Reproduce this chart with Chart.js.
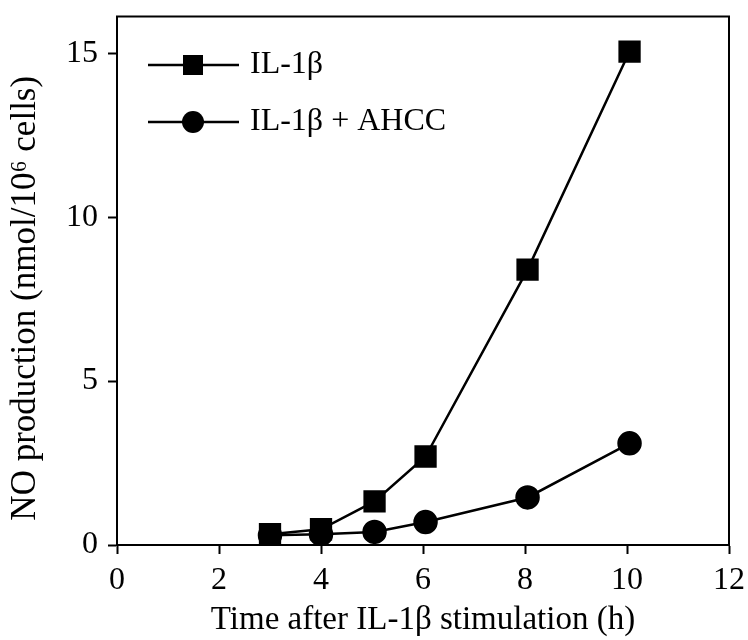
<!DOCTYPE html>
<html>
<head>
<meta charset="utf-8">
<script src="https://cdn.jsdelivr.net/npm/chart.js@4/dist/chart.umd.min.js"></script>
<style>
  html, body { margin: 0; padding: 0; background: #fff; }
  #wrap { width: 748px; height: 640px; }
</style>
</head>
<body>
<div id="wrap"><canvas id="noChart" width="748" height="640"></canvas></div>
<script>
// NO production over time
const times = [3, 4, 5.05, 6.05, 8.05, 10.05];
const il1b = [0.33, 0.48, 1.33, 2.7, 8.4, 15.05];
const il1bAhcc = [0.3, 0.33, 0.4, 0.7, 1.45, 3.1];
const xTicks = [0, 2, 4, 6, 8, 10, 12];
const yTicks = [0, 5, 10, 15];

const serif = "'Liberation Serif', 'Times New Roman', serif";

function toPoints(ys){ return times.map((t, i) => ({ x: t, y: ys[i] })); }

// legend glyph: line with marker in the middle
function legendGlyph(kind){
  const c = document.createElement('canvas');
  c.width = 104; c.height = 30;
  const g = c.getContext('2d');
  g.strokeStyle = '#000'; g.lineWidth = 2.5;
  g.beginPath(); g.moveTo(12, 15); g.lineTo(103, 15); g.stroke();
  g.fillStyle = '#000';
  if(kind === 'rect') g.fillRect(57 - 10, 5, 20, 20);
  else { g.beginPath(); g.arc(57, 15, 11, 0, Math.PI*2); g.fill(); }
  return c;
}
const glyphs = [legendGlyph('rect'), legendGlyph('circle')];

// frame round the plot area
const frame = {
  id: 'frame',
  afterDraw(chart){
    const { ctx, chartArea: a } = chart;
    ctx.save();
    ctx.strokeStyle = '#000'; ctx.lineWidth = 2;
    ctx.strokeRect(a.left, a.top, a.right - a.left, a.bottom - a.top);
    ctx.restore();
  }
};

// no extra room for overhanging tick labels, the layout padding sets it
function noPad(s){ s.paddingTop = 0; s.paddingBottom = 0; s.paddingLeft = 0; s.paddingRight = 0; }

new Chart(document.getElementById('noChart'), {
  type: 'line',
  data: {
    datasets: [
      { label: 'IL-1β', data: toPoints(il1b), borderColor: '#000', backgroundColor: '#000', borderWidth: 2.5,
        pointStyle: 'rect', pointRadius: 14, pointHoverRadius: 14, tension: 0 },
      { label: 'IL-1β + AHCC', data: toPoints(il1bAhcc), borderColor: '#000', backgroundColor: '#000', borderWidth: 2.5,
        pointStyle: 'circle', pointRadius: 11, pointHoverRadius: 11, tension: 0 }
    ]
  },
  options: {
    responsive: false,
    animation: false,
    layout: { padding: { top: 13, right: 19, left: 0, bottom: 0 } },
    plugins: {
      tooltip: { enabled: false },
      legend: {
        position: 'chartArea',
        align: 'start',
        title: { display: true, text: '', font: { size: 20 }, padding: 0 },
        labels: {
          usePointStyle: true,
          pointStyleWidth: 92,
          padding: 25,
          color: '#000',
          font: { family: serif, size: 32 },
          generateLabels: (chart) => chart.data.datasets.map((ds, i) => ({
            text: ds.label, pointStyle: glyphs[i], fillStyle: '#000', strokeStyle: '#000',
            lineWidth: 0, datasetIndex: i, fontColor: '#000'
          }))
        }
      }
    },
    scales: {
      x: {
        type: 'linear', min: 0, max: 12,
        afterBuildTicks: (s) => { s.ticks = xTicks.map(v => ({ value: v })); },
        afterFit: (s) => { s.height = 95; noPad(s); },
        grid: { drawOnChartArea: false, drawTicks: true, tickLength: 9, tickWidth: 2, color: '#000' },
        border: { color: '#000', width: 2 },
        ticks: { color: '#000', padding: 7, maxRotation: 0, font: { family: serif, size: 32 } },
        title: { display: true, text: 'Time after IL-1β stimulation (h)', color: '#000',
                 padding: { top: 0, bottom: 0 }, font: { family: serif, size: 33 } }
      },
      y: {
        type: 'linear', min: 0, max: 16.12,
        afterBuildTicks: (s) => { s.ticks = yTicks.map(v => ({ value: v })); },
        afterFit: (s) => { s.width = 117; noPad(s); },
        grid: { drawOnChartArea: false, drawTicks: true, tickLength: 9, tickWidth: 2, color: '#000' },
        border: { color: '#000', width: 2 },
        ticks: { color: '#000', padding: 10, font: { family: serif, size: 32 } },
        title: { display: true, text: 'NO production (nmol/10⁶ cells)    ', color: '#000',
                 padding: { top: 5, bottom: 0 }, font: { family: serif, size: 35 } }
      }
    }
  },
  plugins: [frame]
});
</script>
</body>
</html>
